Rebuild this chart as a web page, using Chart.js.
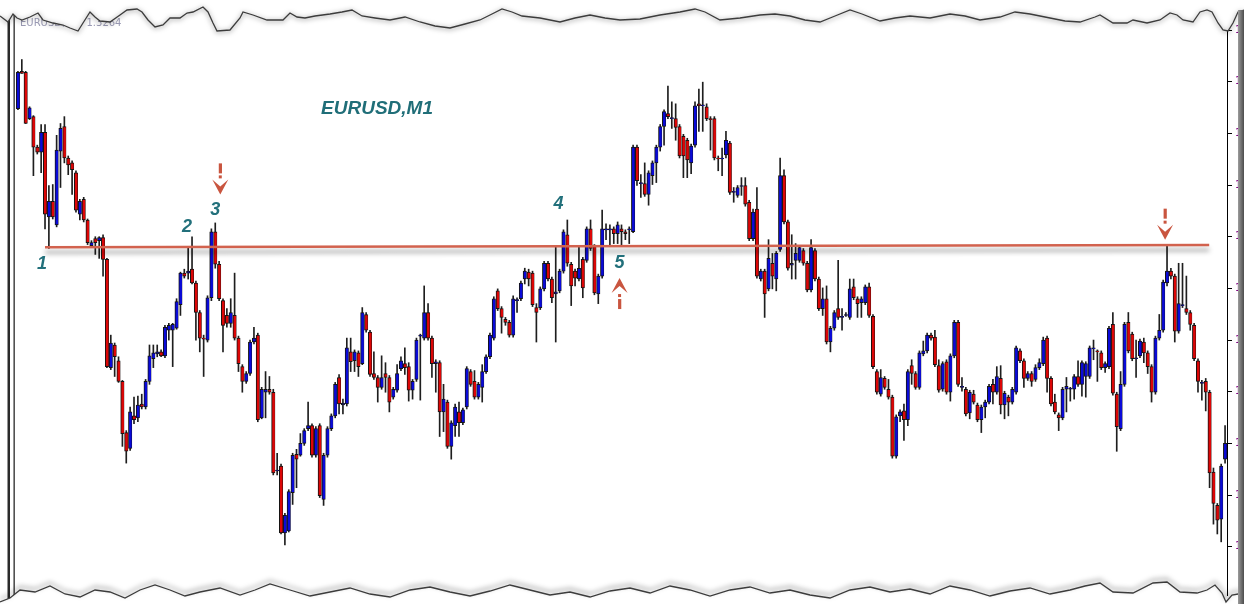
<!DOCTYPE html>
<html>
<head>
<meta charset="utf-8">
<title>EURUSD,M1</title>
<script src="https://cdn.jsdelivr.net/npm/chart.js@4.4.0/dist/chart.umd.min.js"></script>
<style>
  html, body { margin: 0; padding: 0; background: #fff; }
  canvas { display: block; }
</style>
</head>
<body>
<canvas id="candles" width="1244" height="604"></canvas>
<script>
// price in points, one value per one-minute bar
var opens = [
  490,528,527,480,482,451,446,466,380,396, 372,447,472,440,435,425,383,398,377,351,
  358,356,359,337,227,250,234,213,161,145, 178,176,190,187,213,236,241,243,239,265,
  265,267,291,323,323,327,313,283,257,255, 298,365,332,295,280,272,280,257,228,213,
  221,253,260,176,202,205,202,122,127,59,  61,100,139,138,150,165,168,138,168,93,
  138,165,178,217,189,190,243,234,242,231, 281,263,221,217,207,221,217,197,204,226,
  231,228,204,215,259,257,283,257,231,232, 182,192,147,168,182,171,187,223,213,197,
  207,223,238,257,305,287,276,273,260,295, 297,317,324,323,288,288,307,333,317,302,
  305,325,362,332,325,317,337,336,368,350, 302,320,367,367,368,363,368,365,367,365,
  451,414,414,403,422,435,451,472,485,480, 480,472,462,458,435,453,495,493,492,480,
  480,440,439,443,455,405,402,411,412,395, 358,388,317,325,307,333,317,347,422,375,
  331,336,336,346,333,306,346,317,287,297, 253,267,287,278,280,278,309,297,293,293,
  309,279,223,200,216,205,197,137,178,183, 174,229,221,207,241,244,260,258,229,205,
  233,202,239,273,207,205,181,200,189,174, 187,192,210,202,216,189,197,192,202,244,
  234,216,221,215,227,231,257,216,192,179, 176,205,205,205,218,210,218,218,246,244,
  242,227,228,271,200,165,210,273,261,236, 239,253,242,228,202,257,265,313,325,320,
  264,290,287,283,270,234,211,213,202,121, 87,73,134
];
var highs = [
  528,540,528,492,483,453,474,474,412,413, 463,475,482,442,437,427,398,400,378,356,
  360,360,362,338,260,252,238,214,163,187, 197,198,200,215,250,250,250,245,270,272,
  272,297,324,327,350,360,315,285,260,300, 368,374,335,297,287,297,323,259,230,223,
  255,268,262,207,223,218,205,140,129,79,  103,140,144,160,165,192,170,167,170,140,
  167,180,212,220,195,257,257,245,244,288, 283,265,243,219,239,232,219,207,230,238,
  247,232,215,257,261,310,292,259,235,234, 210,194,173,190,192,186,228,225,224,212,
  230,240,262,299,307,289,278,275,300,298, 315,328,327,325,292,309,335,335,319,350,
  327,367,377,334,327,350,339,370,377,352, 322,387,373,372,370,375,372,367,370,453,
  453,423,435,427,437,453,474,489,513,497, 495,474,464,460,454,497,510,517,495,482,
  482,442,450,467,457,410,412,420,420,397, 388,410,327,327,357,343,345,440,428,377,
  362,353,351,348,335,357,348,319,308,310, 269,285,336,287,283,317,317,299,299,311,
  313,281,225,225,218,215,199,179,184,190, 225,235,223,244,254,262,262,265,235,233,
  235,241,275,275,217,207,204,204,191,189, 194,210,215,228,229,203,199,207,249,246,
  236,223,223,230,236,258,259,218,200,181, 207,217,207,220,234,234,233,249,255,245,
  244,233,269,283,202,223,273,283,263,255, 256,257,244,230,259,281,316,351,328,322,
  333,333,320,285,272,236,214,216,204,125, 89,129,168
];
var lows = [
  489,526,475,479,422,444,425,368,348,378, 370,410,435,423,403,385,377,375,352,350,
  342,338,320,227,225,218,212,147,130,143, 170,172,185,185,210,227,238,238,237,255,
  228,266,280,318,317,312,255,243,218,253, 295,328,295,243,268,268,255,223,202,211,
  219,251,172,175,176,200,118,118,58,47,   60,88,105,137,148,163,136,136,95,87,
  136,163,176,180,180,188,223,223,218,230, 263,218,215,192,205,202,182,195,202,224,
  220,193,195,213,194,255,255,217,202,157, 162,145,134,157,157,169,185,208,195,195,
  192,221,236,255,285,262,270,258,258,283, 295,312,310,289,253,286,305,315,293,253,
  303,323,330,290,310,315,298,334,346,301, 292,318,357,350,353,353,350,357,353,364,
  412,400,401,392,413,415,447,453,480,470, 458,440,420,420,424,451,467,467,478,448,
  438,427,422,440,403,395,400,402,391,356, 356,318,315,278,305,307,305,345,373,326,
  317,317,334,331,304,304,315,285,280,251, 243,265,276,265,279,276,296,278,278,291,
  278,226,200,198,205,195,135,135,172,153, 168,210,205,205,239,242,255,228,202,203,
  200,193,237,208,203,178,175,190,172,161, 176,190,190,200,180,175,178,190,200,232,
  207,214,208,213,225,229,202,188,180,163, 174,182,193,195,208,198,197,216,235,213,
  225,222,226,199,142,163,208,242,234,217, 237,232,221,192,200,255,263,310,317,253,
  262,288,281,265,234,202,194,183,105,68,  58,50,130
];
var closes = [
  527,526,475,491,451,446,466,383,396,380, 448,470,440,433,428,387,396,377,354,354,
  354,359,337,228,252,238,213,160,142,182, 174,189,187,213,239,242,243,239,268,270,
  271,294,323,320,325,313,283,257,256,298, 365,332,297,270,272,283,257,231,213,221,
  253,257,174,205,205,202,120,123,59,77,   101,138,134,150,163,168,138,165,97,138,
  165,178,210,190,191,247,233,243,228,283, 265,220,217,207,217,217,192,205,221,234,
  227,204,213,255,260,283,257,231,233,182, 195,147,171,187,171,184,226,210,197,210,
  223,238,260,297,287,278,273,260,297,296, 313,325,317,291,283,307,333,317,298,304,
  325,365,333,310,318,328,308,368,348,303, 320,368,368,368,363,372,365,363,368,451,
  417,415,403,425,435,451,472,487,482,481, 471,442,442,438,452,493,493,494,480,479,
  440,439,440,458,405,406,410,412,393,358, 385,320,325,302,338,320,343,422,375,328,
  333,343,349,333,306,349,317,287,297,253, 267,283,278,279,281,307,298,292,297,309,
  280,228,202,217,207,197,137,177,182,174, 223,221,207,242,244,260,257,230,204,231,
  202,239,273,210,208,180,202,192,174,187, 192,208,202,218,189,201,192,205,247,234,
  216,221,213,227,232,255,216,190,182,176, 205,208,206,218,210,232,231,247,247,243,
  227,231,267,201,167,210,271,244,236,237, 254,242,228,202,257,265,314,325,320,264,
  292,291,283,271,236,213,212,202,120,89,  72,127,150
];

// right price scale (labels are cut off by the page edge, as in the screenshot)
var tickValues = [45, 97.5, 150, 202.5, 255, 307.5, 360, 412.5, 465, 517.5, 570];
var tickLabels = ['1.3230','1.3235','1.3240','1.3245','1.3250','1.3255','1.3260','1.3265','1.3270','1.3275','1.3280'];

// drawn objects: trend line, wave numbers, arrows (bar index / price)
var trendLine = [{ i: 7, v: 349.3 }, { i: 307.9, v: 351.5 }];
var waveNames = ['1', '2', '3', '4', '5'];
var waveAt = [{ i: 6.2, v: 332 }, { i: 43.7, v: 370 }, { i: 51, v: 387 }, { i: 139.7, v: 393 }, { i: 155.5, v: 333 }];
var arrows = [{ i: 52.3, v: 403, dir: 1 }, { i: 155.5, v: 318, dir: -1 }, { i: 296.5, v: 357, dir: 1 }];

var BULL = '#0a0ad8', BEAR = '#dc0606', TEAL = '#22707b', MARK = '#c9553f';

var wickData = [], bodyData = [];
for (var k = 0; k < opens.length; k++) {
  wickData.push({ x: k, y: [lows[k], highs[k]] });
  bodyData.push({ x: k, y: [opens[k], closes[k]] });
}

var topEdge = [[0,16],[8,22],[13,14],[17,18],[22,20],[30,17],[38,13],[43,20],[53,23],[63,25],[70,28],[78,31],[83,23],[90,12],[95,17],[100,21],[110,22],[120,15],[127,10],[137,9],[142,12],[148,20],[155,27],[163,25],[170,18],[180,18],[187,13],[193,12],[203,7],[208,12],[213,23],[217,31],[230,30],[240,18],[243,12],[253,15],[267,20],[283,20],[290,13],[297,17],[305,18],[315,16],[330,14],[342,12],[352,10],[362,16],[375,18],[390,20],[405,17],[420,22],[435,26],[450,28],[465,24],[480,20],[492,14],[502,9],[512,12],[522,16],[540,18],[560,22],[575,18],[590,15],[605,18],[620,20],[640,19],[660,15],[680,12],[695,9],[705,12],[720,20],[740,18],[760,15],[775,14],[790,16],[805,20],[820,22],[835,16],[850,10],[862,14],[880,21],[895,18],[910,16],[930,18],[950,14],[965,16],[980,20],[1000,17],[1015,12],[1030,14],[1050,18],[1065,21],[1080,22],[1095,17],[1100,15],[1113,23],[1127,23],[1133,20],[1147,23],[1160,20],[1170,13],[1177,15],[1183,20],[1193,22],[1200,12],[1207,10],[1212,12],[1218,23],[1223,30],[1228,31],[1233,23],[1238,12],[1244,10]];
var bottomEdge = [[0,602],[10,598],[20,590],[35,592],[50,586],[65,594],[80,597],[95,590],[110,592],[125,598],[140,590],[155,585],[170,590],[185,596],[200,592],[220,588],[240,595],[255,590],[270,584],[290,590],[310,596],[330,592],[350,588],[370,594],[390,597],[410,590],[430,587],[450,592],[470,596],[490,591],[510,585],[530,590],[550,595],[570,592],[590,597],[610,591],[630,588],[650,593],[670,586],[690,590],[710,596],[730,590],[750,587],[770,593],[790,590],[810,595],[830,598],[850,590],[870,587],[890,592],[910,589],[930,594],[950,586],[970,590],[990,596],[1010,591],[1030,588],[1050,594],[1070,590],[1085,586],[1100,583],[1113,592],[1133,593],[1153,583],[1167,582],[1180,592],[1197,593],[1207,590],[1215,585],[1222,593],[1226,602],[1232,595],[1238,594],[1244,596]];

function drawArrow(ctx, cx, tip, dir) {
  ctx.fillStyle = MARK;
  ctx.beginPath();
  ctx.moveTo(cx, tip);
  ctx.lineTo(cx - 8, tip - dir * 15);
  ctx.lineTo(cx, tip - dir * 8);
  ctx.lineTo(cx + 8, tip - dir * 15);
  ctx.closePath();
  ctx.fill();
  ctx.fillRect(cx - 1.5, Math.min(tip - dir * 19, tip - dir * 16), 3, 3);
  ctx.fillRect(cx - 1.5, Math.min(tip - dir * 31, tip - dir * 21), 3.2, 10);
}

function tornEdge(ctx, pts, fillTo, shadowY) {
  ctx.save();
  ctx.beginPath();
  ctx.moveTo(pts[0][0], fillTo);
  pts.forEach(function (p) { ctx.lineTo(p[0], p[1]); });
  ctx.lineTo(pts[pts.length - 1][0], fillTo);
  ctx.closePath();
  ctx.fillStyle = '#fff';
  ctx.fill();
  ctx.beginPath();
  pts.forEach(function (p, n) { if (n) ctx.lineTo(p[0], p[1]); else ctx.moveTo(p[0], p[1]); });
  ctx.shadowColor = 'rgba(0,0,0,0.55)';
  ctx.shadowBlur = 5;
  ctx.shadowOffsetY = shadowY;
  ctx.strokeStyle = '#3c3c3c';
  ctx.lineWidth = 1.3;
  ctx.stroke();
  ctx.restore();
}

var overlay = {
  id: 'overlay',
  afterDatasetsDraw: function (chart) {
    var ctx = chart.ctx, x = chart.scales.x, y = chart.scales.y;

    ctx.save();
    ctx.shadowColor = 'rgba(0,0,0,0.42)';
    ctx.shadowBlur = 5;
    ctx.shadowOffsetY = 5;
    ctx.strokeStyle = '#d2624e';
    ctx.lineWidth = 2.4;
    ctx.beginPath();
    ctx.moveTo(x.getPixelForValue(trendLine[0].i), y.getPixelForValue(trendLine[0].v));
    ctx.lineTo(x.getPixelForValue(trendLine[1].i), y.getPixelForValue(trendLine[1].v));
    ctx.stroke();
    ctx.restore();

    ctx.save();
    ctx.font = 'italic bold 18px "Liberation Sans", Arial, sans-serif';
    ctx.fillStyle = TEAL;
    ctx.textAlign = 'center';
    ctx.textBaseline = 'middle';
    waveNames.forEach(function (t, n) {
      ctx.fillText(t, x.getPixelForValue(waveAt[n].i), y.getPixelForValue(waveAt[n].v));
    });
    arrows.forEach(function (a) {
      drawArrow(ctx, x.getPixelForValue(a.i), y.getPixelForValue(a.v), a.dir);
    });
    ctx.font = 'italic bold 19px "Liberation Sans", Arial, sans-serif';
    ctx.fillStyle = '#206e78';
    ctx.fillText('EURUSD,M1', 377, 109);
    ctx.restore();
  },
  afterDraw: function (chart) {
    var ctx = chart.ctx;
    ctx.save();
    // faded terminal header, mostly torn away
    ctx.font = '10px "DejaVu Sans", sans-serif';
    ctx.fillStyle = '#9a9ab4';
    ctx.textBaseline = 'alphabetic';
    ctx.fillText('EURUSD,M1  1.3264', 20, 26);
    // double frame on the left
    ctx.fillStyle = '#2a2a2a';
    ctx.fillRect(7.5, 0, 2.5, 604);
    ctx.fillRect(13.5, 0, 1.3, 604);
    ctx.restore();

    tornEdge(ctx, topEdge, 0, 1);
    tornEdge(ctx, bottomEdge, 604, -3);

    ctx.save();
    var g = ctx.createLinearGradient(1238, 0, 1244, 0);
    g.addColorStop(0, '#9c9c9c');
    g.addColorStop(1, '#4c4c4c');
    ctx.fillStyle = g;
    ctx.fillRect(1238, 10, 6, 594);
    ctx.restore();
  }
};

var chart = new Chart(document.getElementById('candles').getContext('2d'), {
  type: 'bar',
  data: {
    datasets: [
      {
        label: 'wicks',
        data: wickData,
        backgroundColor: '#1e1e1e',
        barThickness: 1,
        grouped: false,
        order: 2
      },
      {
        label: 'bodies',
        data: bodyData,
        backgroundColor: function (c) { return closes[c.dataIndex] >= opens[c.dataIndex] ? BULL : BEAR; },
        borderColor: '#141414',
        borderWidth: { left: 1, top: 1, bottom: 1, right: 0.5 },
        borderSkipped: false,
        barThickness: 3.4,
        grouped: false,
        order: 1
      }
    ]
  },
  options: {
    responsive: false,
    animation: false,
    devicePixelRatio: 1,
    layout: { padding: { left: 16, top: 30, right: 0, bottom: 0 } },
    plugins: { legend: { display: false }, tooltip: { enabled: false } },
    scales: {
      x: { type: 'linear', offset: false, min: -0.5, max: opens.length - 0.5, display: false },
      y: {
        position: 'right',
        min: -4,
        max: 570,
        afterBuildTicks: function (s) { s.ticks = tickValues.map(function (v) { return { value: v }; }); },
        afterFit: function (s) { s.width = 17; },
        border: { display: true, color: '#000', width: 1 },
        grid: { drawOnChartArea: false, drawTicks: true, tickLength: 5, color: '#000' },
        ticks: {
          padding: 3,
          color: '#800080',
          font: { family: 'DejaVu Sans', size: 10 },
          callback: function (v, n) { return tickLabels[n]; }
        }
      }
    }
  },
  plugins: [overlay]
});
</script>
</body>
</html>
